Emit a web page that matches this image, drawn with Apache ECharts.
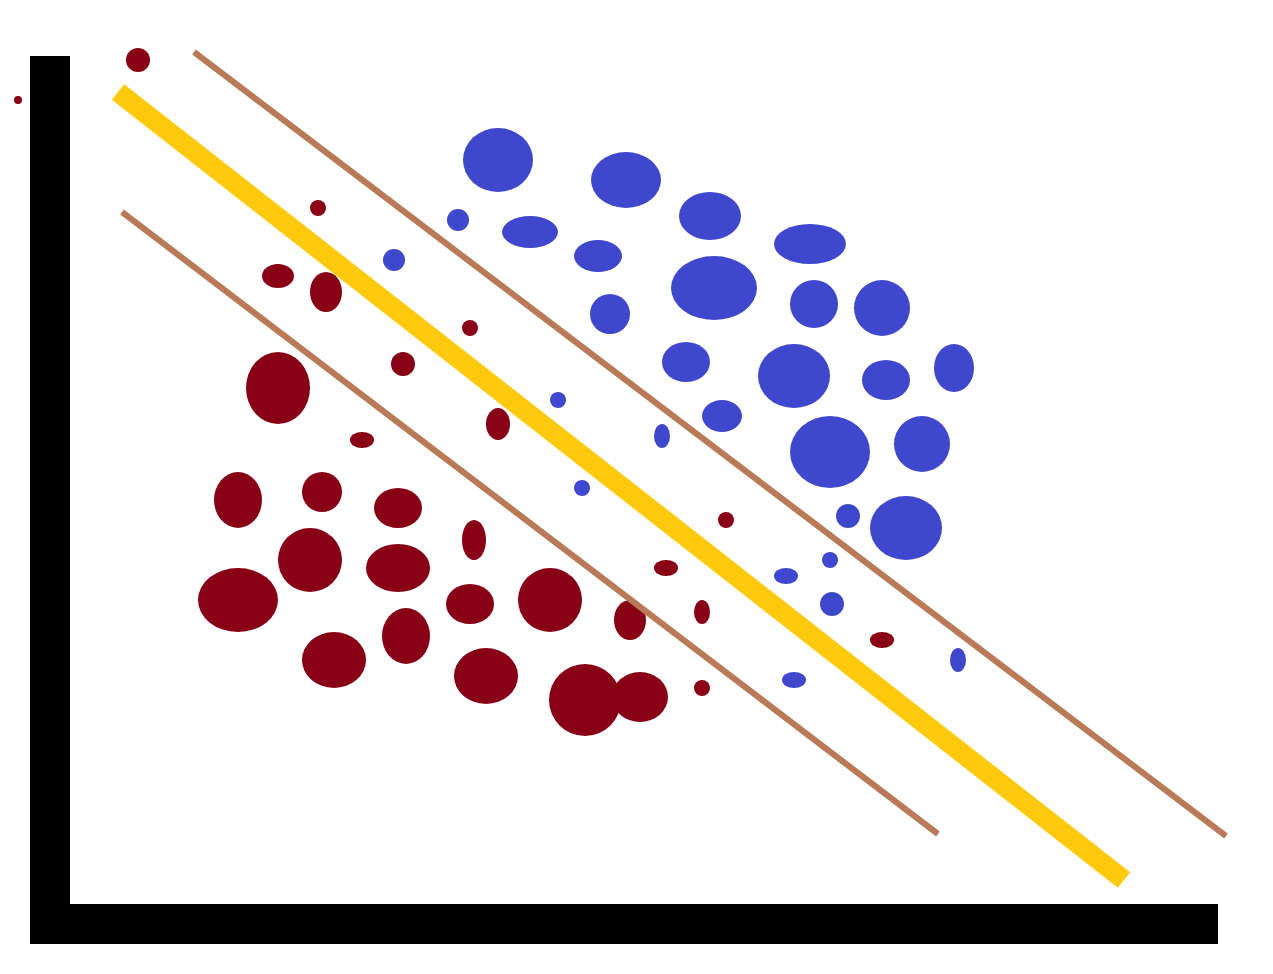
<!DOCTYPE html>
<html>
<head>
<meta charset="utf-8">
<style>
  html, body { margin: 0; padding: 0; background: #ffffff; }
  #chart { width: 1273px; height: 974px; }
</style>
<script src="https://cdn.jsdelivr.net/npm/echarts@6/dist/echarts.min.js"></script>
</head>
<body>
<div id="chart"></div>
<script>
// Class A (dark red) points: [x, y] in chart units
const redPoints = [
  [88, 864], [-32, 824], [268, 716], [228, 648], [276, 632], [420, 596],
  [353, 560], [228, 536], [312, 484], [448, 500], [188, 424], [272, 432],
  [348, 416], [424, 384], [260, 364], [348, 356], [188, 324], [420, 320],
  [500, 324], [580, 304], [616, 356], [356, 288], [284, 264], [436, 248],
  [535, 224], [590, 227], [676, 404], [652, 312], [832, 284], [652, 236]
];
// bubble extents [w, h]
const redSizes = [
  [24, 24], [8, 8], [16, 16], [32, 24], [32, 40], [16, 16],
  [24, 24], [64, 72], [24, 16], [24, 32], [48, 56], [40, 40],
  [48, 40], [24, 40], [64, 64], [64, 48], [80, 64], [48, 40],
  [64, 64], [32, 40], [24, 16], [48, 56], [64, 56], [64, 56],
  [72, 72], [56, 50], [16, 16], [16, 24], [24, 16], [16, 16]
];

// Class B (blue) points
const bluePoints = [
  [448, 764], [576, 744], [660, 708], [760, 680], [664, 636], [764, 620],
  [832, 616], [480, 692], [548, 668], [560, 610], [636, 562], [744, 548],
  [836, 544], [904, 556], [672, 508], [780, 472], [872, 480], [856, 396],
  [408, 704], [344, 664], [508, 524], [612, 488], [532, 436], [798, 408],
  [780, 364], [736, 348], [782, 320], [908, 264], [744, 244]
];
const blueSizes = [
  [70, 64], [70, 56], [62, 48], [72, 40], [86, 64], [48, 48],
  [56, 56], [56, 32], [48, 32], [40, 40], [48, 40], [72, 64],
  [48, 40], [40, 48], [40, 32], [80, 72], [56, 56], [72, 64],
  [22, 22], [22, 22], [16, 16], [16, 24], [16, 16], [24, 24],
  [16, 16], [24, 16], [24, 24], [16, 24], [24, 16]
];

// separating hyperplane and margins (end points)
const decisionLine = [[68, 832], [1074, 44]];
const upperMargin = [[144, 872], [1176, 88]];
const lowerMargin = [[72, 712], [888, 90]];

const chart = echarts.init(document.getElementById('chart'), null, { renderer: 'canvas' });

function bubbles(points, sizes) {
  return points.map(function (p, i) {
    return { value: p, symbolSize: sizes[i] };
  });
}

const hidden = { show: false };
const axisBase = {
  type: 'value',
  axisTick: hidden,
  axisLabel: hidden,
  splitLine: hidden,
  axisLine: { show: true, onZero: false, lineStyle: { color: '#000000', width: 40, cap: 'square' } }
};
const hiddenAxis = {
  type: 'value', show: false,
  axisTick: hidden, axisLabel: hidden, splitLine: hidden, axisLine: hidden
};

chart.setOption({
  backgroundColor: '#ffffff',
  animation: false,
  grid: [
    { left: 50, top: 76, width: 1148, height: 848, containLabel: false },
    // same scale, larger extent: carries the three lines
    { left: 50, top: 36, width: 1200, height: 888, containLabel: false }
  ],
  xAxis: [
    Object.assign({}, axisBase, { gridIndex: 0, min: 0, max: 1148 }),
    Object.assign({}, hiddenAxis, { gridIndex: 1, min: 0, max: 1200 })
  ],
  yAxis: [
    Object.assign({}, axisBase, { gridIndex: 0, min: 0, max: 848 }),
    Object.assign({}, hiddenAxis, { gridIndex: 1, min: 0, max: 888 })
  ],
  series: [
    {
      type: 'scatter', clip: false, z: 2, symbol: 'circle',
      itemStyle: { color: '#880015', opacity: 1 },
      data: bubbles(redPoints, redSizes)
    },
    {
      type: 'scatter', clip: false, z: 2, symbol: 'circle',
      itemStyle: { color: '#3F48CC', opacity: 1 },
      data: bubbles(bluePoints, blueSizes)
    },
    {
      type: 'line', xAxisIndex: 1, yAxisIndex: 1, clip: false, z: 3, symbol: 'none', silent: true,
      lineStyle: { color: '#B97A57', width: 6 },
      data: upperMargin
    },
    {
      type: 'line', xAxisIndex: 1, yAxisIndex: 1, clip: false, z: 3, symbol: 'none', silent: true,
      lineStyle: { color: '#B97A57', width: 6 },
      data: lowerMargin
    },
    {
      type: 'line', xAxisIndex: 1, yAxisIndex: 1, clip: false, z: 4, symbol: 'none', silent: true,
      lineStyle: { color: '#FFC90E', width: 20 },
      data: decisionLine
    }
  ]
});
</script>
</body>
</html>
